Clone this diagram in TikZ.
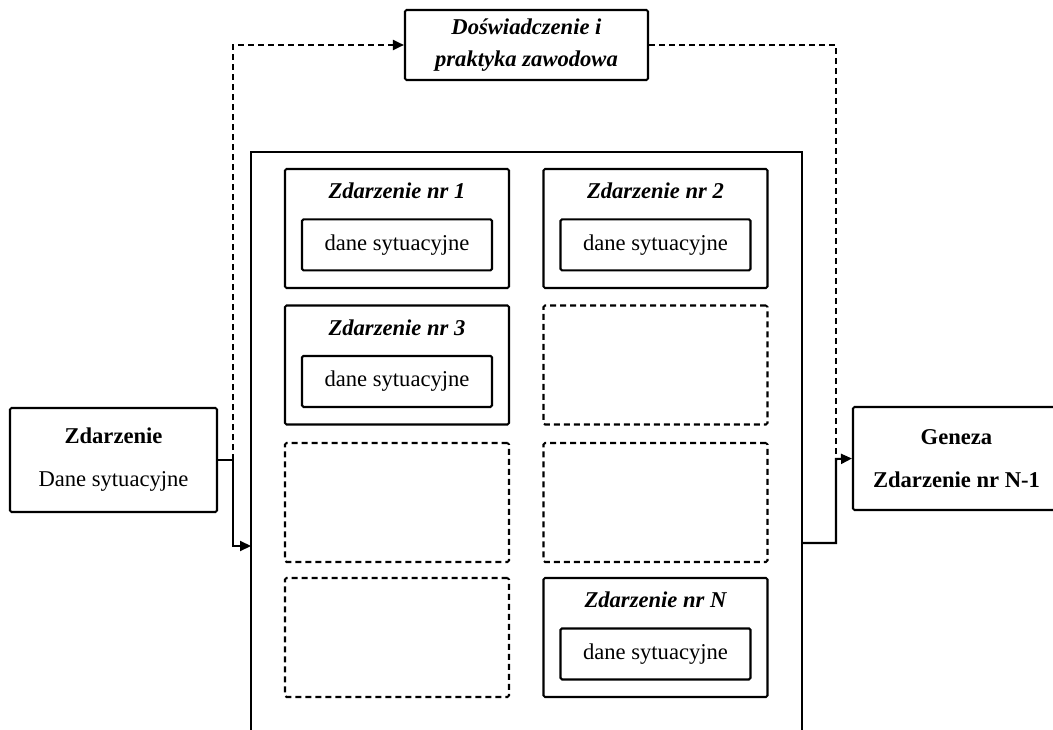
\documentclass[tikz,border=0pt]{standalone}
\usepackage{fontspec}
\setmainfont{Liberation Serif}
\usepackage{tikz}
\usetikzlibrary{positioning,arrows.meta}

\begin{document}
\begin{tikzpicture}[x=1pt,y=-1pt,
  font=\fontsize{22.6}{27}\selectfont,
  box/.style={draw,line width=2.1pt,rounded corners=1.5pt,inner sep=0pt,align=center},
  zbox/.style={box,minimum width=224pt,minimum height=119pt},
  emptybox/.style={zbox,dash pattern=on 6pt off 4pt},
  dane/.style={box,minimum width=190pt,minimum height=51pt},
  ttl/.style={font=\fontsize{22.6}{32}\selectfont\bfseries\itshape},
  >={Triangle[length=11pt,width=10pt]},
  edge/.style={->,line width=2.1pt},
  dsh/.style={line width=2.1pt,dash pattern=on 6pt off 4pt}
]
\useasboundingbox (0,0) rectangle (1053,730);
\clip (0,0) rectangle (1053,730);

% outer boxes
\node[box,ttl,minimum width=243pt,minimum height=70pt] (exp) at (526.5,45) {Doświadczenie i\\praktyka zawodowa};
\node[box,minimum width=207pt,minimum height=104pt] (zd) at (113.5,460) {\textbf{Zdarzenie}\\[16pt]Dane sytuacyjne};
\node[box,font=\fontsize{22.6}{27}\selectfont\bfseries,minimum width=207pt,minimum height=103pt] (gen) at (956.5,458.5) {Geneza\\[16pt]Zdarzenie nr N-1};
\node[box,rounded corners=0pt,minimum width=551pt,minimum height=618pt] (panel) at (526.5,461) {};

% events
\node[zbox] (z1) at (397,228.5) {};
\node[ttl] at ([yshift=-23pt]z1.north) {Zdarzenie nr 1};
\node[dane] (d1) at ([yshift=-77pt]z1.north) {dane sytuacyjne};

\node[zbox] (z2) at (655.5,228.5) {};
\node[ttl] at ([yshift=-23pt]z2.north) {Zdarzenie nr 2};
\node[dane] (d2) at ([yshift=-77pt]z2.north) {dane sytuacyjne};

\node[zbox] (z3) at (397,365) {};
\node[ttl] at ([yshift=-23pt]z3.north) {Zdarzenie nr 3};
\node[dane] (d3) at ([yshift=-77pt]z3.north) {dane sytuacyjne};

\node[emptybox] (e1) at (655.5,365) {};
\node[emptybox] (e2) at (397,502.5) {};
\node[emptybox] (e3) at (655.5,502.5) {};
\node[emptybox] (e4) at (397,637.5) {};

\node[zbox] (zn) at (655.5,637.5) {};
\node[ttl] at ([yshift=-23pt]zn.north) {Zdarzenie nr N};
\node[dane] (dn) at ([yshift=-77pt]zn.north) {dane sytuacyjne};

% connectors
\coordinate (lj) at (233,460);
\coordinate (pin) at (251,546);
\coordinate (pout) at (802,543);
\coordinate (rj) at (836,459);
\draw[edge] (zd.east) -- (lj) |- (pin);
\draw[dsh,->] (lj) |- (exp.west);
\draw[edge] (pout) -| (rj) -- (gen.west);
\draw[dsh] (exp.east) -| (rj);
\end{tikzpicture}
\end{document}
